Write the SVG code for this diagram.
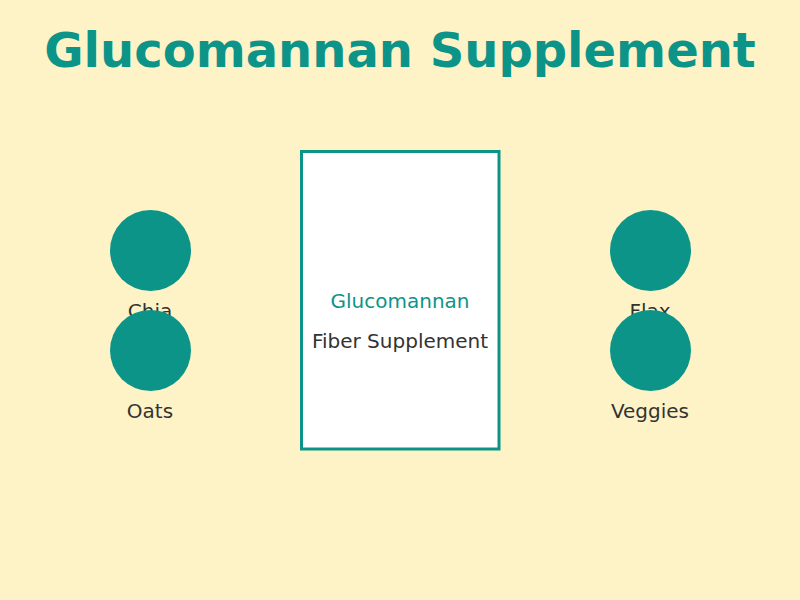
<svg xmlns="http://www.w3.org/2000/svg" width="800" height="600" viewBox="0 0 800 600">
<style>
.title{font-family:"DejaVu Sans",sans-serif;font-weight:bold;font-size:48px;fill:#0d9488;text-anchor:middle}
.lbl{font-family:"DejaVu Sans",sans-serif;font-size:20px;fill:#333333;text-anchor:middle}
.dot{fill:#0d9488}
</style>
<rect width="800" height="600" fill="#fef3c7"/>
<text class="title" x="400" y="67">Glucomannan Supplement</text>
<g id="supplement">
<rect x="301.5" y="151.5" width="197.5" height="297.5" fill="#ffffff" stroke="#0d9488" stroke-width="3"/>
<text class="lbl" x="400" y="307.5" style="fill:#0d9488">Glucomannan</text>
<text class="lbl" x="400" y="347.5">Fiber Supplement</text>
</g>
<g id="chia">
<circle class="dot" cx="150.5" cy="250.5" r="40.5"/>
<text class="lbl" x="150" y="317.5">Chia</text>
</g>
<g id="oats">
<circle class="dot" cx="150.5" cy="350.5" r="40.5"/>
<text class="lbl" x="150" y="417.5">Oats</text>
</g>
<g id="flax">
<circle class="dot" cx="650.5" cy="250.5" r="40.5"/>
<text class="lbl" x="650" y="317.5">Flax</text>
</g>
<g id="veggies">
<circle class="dot" cx="650.5" cy="350.5" r="40.5"/>
<text class="lbl" x="650" y="417.5">Veggies</text>
</g>
<g id="connectors"/>
</svg>
